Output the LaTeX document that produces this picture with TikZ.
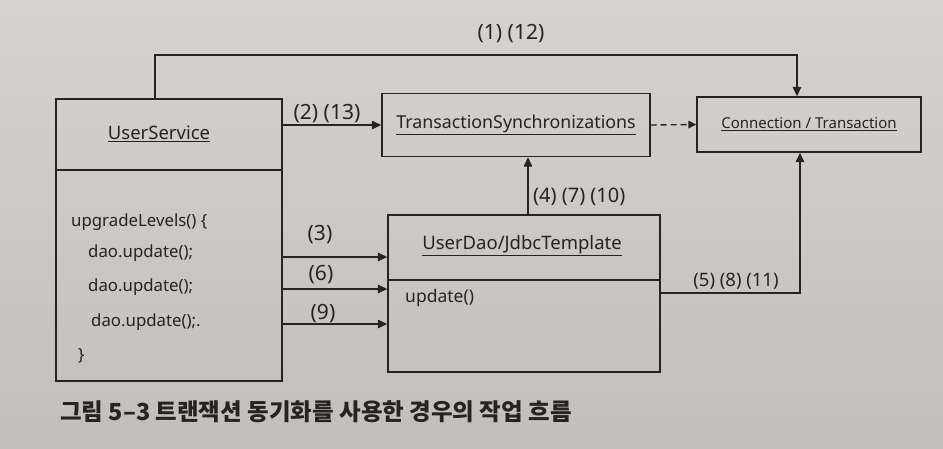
\documentclass[tikz,border=0pt]{standalone}
\usepackage{fontspec}
\setmainfont{Noto Sans}
\newfontfamily\kfont{Noto Sans CJK KR}
\usetikzlibrary{arrows.meta}
\definecolor{papertop}{RGB}{212,211,205}
\definecolor{paperbot}{RGB}{194,191,185}
\definecolor{ink}{RGB}{38,36,34}
\begin{document}
\begin{tikzpicture}[x=1pt,y=-1pt,
  box/.style={draw=ink, line width=1.4pt, inner sep=0pt, text=ink},
  ttl/.style={text=ink, font=\fontsize{18.5}{20}\selectfont, inner sep=0pt},
  small/.style={text=ink, font=\fontsize{15}{17}\selectfont, inner sep=0pt},
  code/.style={text=ink, font=\fontsize{16.8}{19}\selectfont, inner sep=0pt, anchor=west},
  lbl/.style={text=ink, font=\fontsize{21}{23}\selectfont, inner sep=1pt},
  line/.style={draw=ink, line width=1.4pt},
  arr/.style={line, -{Triangle[length=9.5pt,width=8.5pt]}},
]
\shade[top color=papertop, bottom color=paperbot] (0,0) rectangle (943,448);
\useasboundingbox (0,0) rectangle (943,448);

% UserService
\node[box, minimum width=226pt, minimum height=282pt] (us) at (169,240) {};
\draw[line] (us.west |- 0,170) -- (us.east |- 0,170);
\node[ttl] (ust) at (159,134) {\underline{UserService}};
\node[code] (l1) at (71,222) {upgradeLevels() \{};
\node[code] (l2) at (88,253) {dao.update();};
\node[code] (l3) at (88,287) {dao.update();};
\node[code] (l4) at (91,322) {dao.update();.};
\node[code] (l5) at (78,356) {\}};

% TransactionSynchronizations
\node[box, minimum width=268pt, minimum height=63pt, ttl, font=\fontsize{17.8}{20}\selectfont] (ts) at (516,125) {\underline{TransactionSynchronizations}};

% Connection / Transaction
\node[box, minimum width=224pt, minimum height=55pt, small] (cn) at (809,124.5) {\underline{Connection / Transaction}};

% UserDao / JdbcTemplate
\node[box, minimum width=272pt, minimum height=157pt] (ud) at (524,293.5) {};
\draw[line] (ud.west |- 0,280) -- (ud.east |- 0,280);
\node[ttl] (udt) at (522,246) {\underline{UserDao/JdbcTemplate}};
\node[code, font=\fontsize{17.5}{19}\selectfont] (upd) at (405,298) {update()};

% connectors
\coordinate (c1) at (155,55);
\coordinate (c2) at (797,55);
\draw[arr] (us.north -| c1) -- (c1) -- (c2) -- (cn.north -| c2);
\node[lbl] (lab1) at (511,34) {(1) (12)};

\draw[arr] (us.east |- ts.west) -- (ts.west);
\node[lbl] (lab2) at (327,114) {(2) (13)};

\draw[line, dashed, dash pattern=on 6pt off 4pt, -{Triangle[length=8pt,width=7.5pt]}] (ts.east) -- (cn.west);

\coordinate (a4) at (528,0);
\draw[arr] (ud.north -| a4) -- (ts.south -| a4);
\node[lbl, anchor=west, font=\fontsize{20}{22}\selectfont] (lab4) at (532,197) {(4) (7) (10)};

\coordinate (y3) at (0,257);
\coordinate (y6) at (0,289);
\coordinate (y9) at (0,324);
\draw[arr] (us.east |- y3) -- (ud.west |- y3);
\draw[arr] (us.east |- y6) -- (ud.west |- y6);
\draw[arr] (us.east |- y9) -- (ud.west |- y9);
\node[lbl] (lab3) at (320,235) {(3)};
\node[lbl] (lab6) at (321,275) {(6)};
\node[lbl] (lab9) at (323,314) {(9)};

\coordinate (c3) at (800,293);
\draw[arr] (ud.east |- c3) -- (c3) -- (cn.south -| c3);
\node[lbl, font=\fontsize{18.5}{20}\selectfont] (lab5) at (736,281) {(5) (8) (11)};

% caption
\node[anchor=west, text=ink, inner sep=0pt, font=\kfont\bfseries\fontsize{23.5}{28}\selectfont] (cap) at (60,412) {그림 5–3 트랜잭션 동기화를 사용한 경우의 작업 흐름};
\end{tikzpicture}
\end{document}
